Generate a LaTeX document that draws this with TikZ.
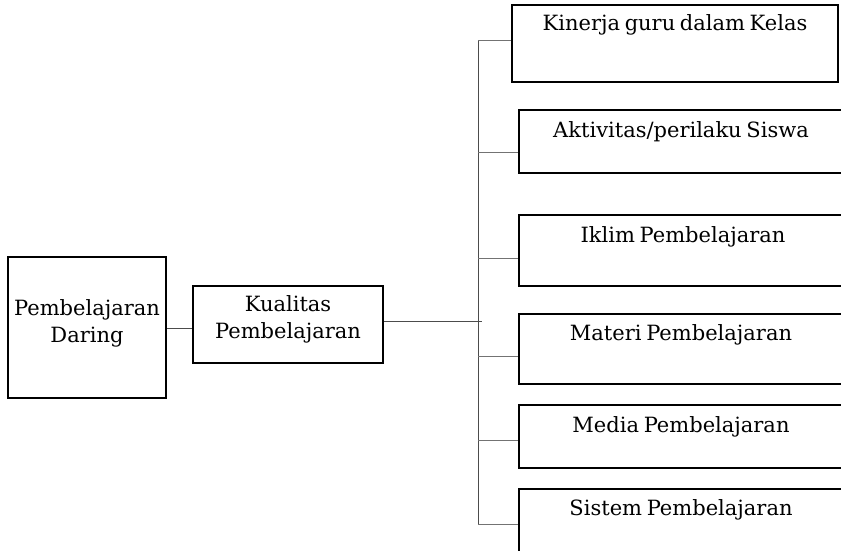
\documentclass[tikz,border=0pt]{standalone}
\usepackage{fontspec}
\setmainfont[WordSpace=0.7]{DejaVu Serif}
\begin{document}
\begin{tikzpicture}[x=1pt,y=-1pt,
  box/.style={draw=black,line width=1.5pt,rectangle,inner sep=0pt},
  lbl/.style={font=\fontsize{21}{27}\selectfont,text=black,align=center,inner sep=0pt},
  conn/.style={draw=black!70,line width=0.8pt},
  branch/.style={draw=black!55,line width=0.9pt}]
\useasboundingbox (0,0) rectangle (841,550);
\clip (0,0) rectangle (841,550);
\fill[white] (0,0) rectangle (841,550);
% left boxes
\node[box,minimum width=158pt,minimum height=141pt] (pd) at (87,327.5) {};
\node[lbl] (pdt) at (87,323) {Pembelajaran\\Daring};
\node[box,minimum width=190pt,minimum height=77pt] (kp) at (288,324.5) {};
\node[lbl] (kpt) at (288,319) {Kualitas\\Pembelajaran};
% right boxes
\node[box,minimum width=326pt,minimum height=77pt] (b1) at (675,43.5) {};
\node[box,minimum width=326pt,minimum height=63pt] (b2) at (682,141.5) {};
\node[box,minimum width=326pt,minimum height=71pt] (b3) at (682,250.5) {};
\node[box,minimum width=326pt,minimum height=70pt] (b4) at (682,349) {};
\node[box,minimum width=326pt,minimum height=63pt] (b5) at (682,436.5) {};
\node[box,minimum width=326pt,minimum height=90pt] (b6) at (682,534) {};
\node[lbl] (t1) at (675,25) {Kinerja guru dalam Kelas};
\node[lbl] (t2) at (681,132) {Aktivitas/perilaku Siswa};
\node[lbl] (t3) at (683,237) {Iklim Pembelajaran};
\node[lbl] (t4) at (681,335) {Materi Pembelajaran};
\node[lbl] (t5) at (681,427) {Media Pembelajaran};
\node[lbl] (t6) at (681,510) {Sistem Pembelajaran};
% connectors
\coordinate (ttop) at (478,40);
\coordinate (tbot) at (478,524);
\coordinate (tick) at (482,321);
\draw[conn] (pd.east |- 0,328) -- (kp.west |- 0,328);
\draw[conn] (kp.east |- tick) -- (tick);
\draw[conn] (ttop) -- (tbot);
\draw[branch] (ttop) -- (b1.west |- ttop);
\draw[branch] (478,152) -- (b2.west |- 0,152);
\draw[branch] (478,258) -- (b3.west |- 0,258);
\draw[branch] (478,356) -- (b4.west |- 0,356);
\draw[branch] (478,440) -- (b5.west |- 0,440);
\draw[branch] (tbot) -- (b6.west |- tbot);
\end{tikzpicture}
\end{document}
